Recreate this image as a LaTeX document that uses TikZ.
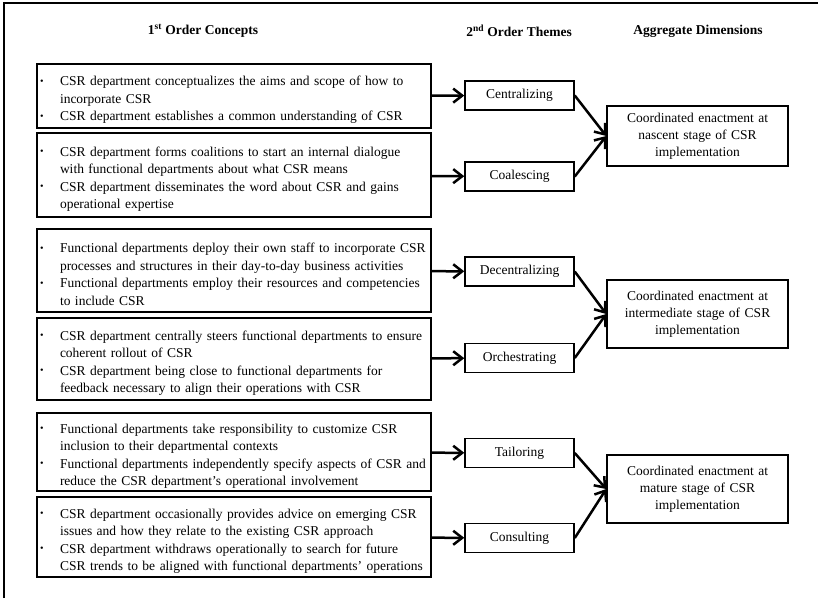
\documentclass[tikz,border=0pt]{standalone}
\usepackage{fontspec}
\setmainfont{Liberation Serif}
\usepackage{tikz}
\usetikzlibrary{arrows.meta}
\newcommand{\bul}{\par\noindent\hangindent=20pt\hangafter=1\makebox[20pt][l]{\raisebox{1.5pt}{\fontsize{10}{10}\selectfont\textbullet}}}
\tikzset{con/.style={rectangle,draw,line width=1.5pt,text width=388pt,inner xsep=3pt,inner ysep=0pt,font=\fontsize{13.5}{17.5}\selectfont}}
\tikzset{thm/.style={rectangle,draw,line width=1.5pt,minimum width=109pt,minimum height=29pt,inner sep=0pt,font=\fontsize{13.5}{16}\selectfont}}
\tikzset{dim/.style={rectangle,draw,line width=1.5pt,text width=175pt,inner xsep=3pt,inner ysep=0pt,align=center,font=\fontsize{13.5}{17}\selectfont}}
\tikzset{hd/.style={font=\bfseries\fontsize{13.5}{16}\selectfont}}

\begin{document}
\begin{tikzpicture}[x=1pt,y=1pt,>={Straight Barb[length=9pt,width=14pt]}]
    \useasboundingbox (0,0) rectangle (818,-598);
    \draw [line width=1.5pt] (4,-598) -- (4,-3) -- (818,-3);

    \node[hd] (h1)at (203,-31) {1\textsuperscript{st} Order Concepts};
    \node[hd] (h2)at (519,-31) {2\textsuperscript{nd} Order Themes};
    \node[hd] (h3)at (698,-31) {Aggregate Dimensions};

    \node[con,minimum height=64pt] (c1)at (234,-96) {\bul CSR department conceptualizes the aims and scope of how to\newline incorporate CSR
        \bul CSR department establishes a common understanding of CSR\par};
    \node[con,minimum height=84pt] (c2)at (234,-175) {\bul CSR department forms coalitions to start an internal dialogue\newline with functional departments about what CSR means
        \bul CSR department disseminates the word about CSR and gains\newline operational expertise\par};
    \node[con,minimum height=83pt] (c3)at (234,-270.5) {\bul Functional departments deploy their own staff to incorporate CSR\newline processes and structures in their day-to-day business activities
        \bul Functional departments employ their resources and competencies\newline to include CSR\par};
    \node[con,minimum height=82pt] (c4)at (234,-359) {\bul CSR department centrally steers functional departments to ensure\newline coherent rollout of CSR
        \bul CSR department being close to functional departments for\newline feedback necessary to align their operations with CSR\par};
    \node[con,minimum height=78pt] (c5)at (234,-452) {\bul Functional departments take responsibility to customize CSR\newline inclusion to their departmental contexts
        \bul Functional departments independently specify aspects of CSR and\newline reduce the CSR department's operational involvement\par};
    \node[con,minimum height=80pt] (c6)at (234,-537) {\bul CSR department occasionally provides advice on emerging CSR\newline issues and how they relate to the existing CSR approach
        \bul CSR department withdraws operationally to search for future\newline CSR trends to be aligned with functional departments' operations\par};

    \node[thm] (t1)at (519.5,-95.5) {Centralizing};
    \node[thm] (t2)at (519.5,-176.5) {Coalescing};
    \node[thm] (t3)at (519.5,-271.5) {Decentralizing};
    \node[thm] (t4)at (519.5,-358) {Orchestrating};
    \node[thm] (t5)at (519.5,-453) {Tailoring};
    \node[thm] (t6)at (519.5,-538) {Consulting};

    \node[dim,minimum height=60pt] (d1)at (697.5,-136) {Coordinated enactment at\\ nascent stage of CSR\\ implementation};
    \node[dim,minimum height=68pt] (d2)at (697.5,-314) {Coordinated enactment at\\ intermediate stage of CSR\\ implementation};
    \node[dim,minimum height=68pt] (d3)at (697.5,-489) {Coordinated enactment at\\ mature stage of CSR\\ implementation};

    \draw [->,line width=2.5pt] (c1) to [] (t1);
    \draw [->,line width=2.5pt] (c2) to [] (t2);
    \draw [->,line width=2.5pt] (c3) to [] (t3);
    \draw [->,line width=2.5pt] (c4) to [] (t4);
    \draw [->,line width=2.5pt] (c5) to [] (t5);
    \draw [->,line width=2.5pt] (c6) to [] (t6);
    \draw [->,line width=2.5pt] (t1.east) to [] (d1.west);
    \draw [->,line width=2.5pt] (t2.east) to [] (d1.west);
    \draw [->,line width=2.5pt] (t3.east) to [] (d2.west);
    \draw [->,line width=2.5pt] (t4.east) to [] (d2.west);
    \draw [->,line width=2.5pt] (t5.east) to [] (d3.west);
    \draw [->,line width=2.5pt] (t6.east) to [] (d3.west);
\end{tikzpicture}
\end{document}
